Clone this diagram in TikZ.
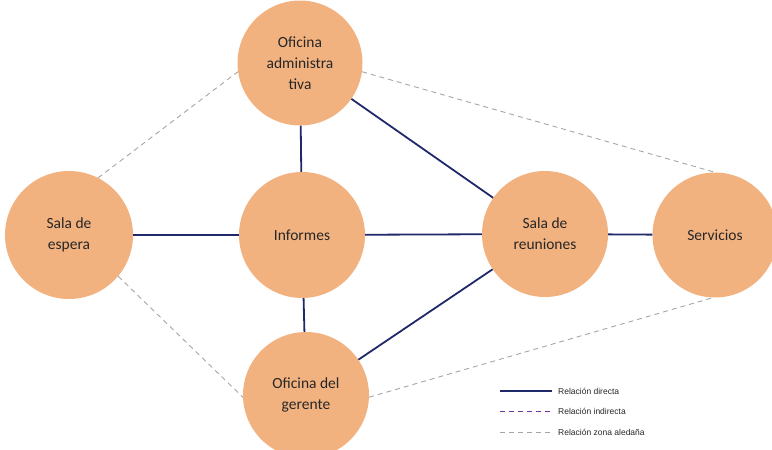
\documentclass[tikz,border=0pt]{standalone}
\usepackage{fontspec}
\setmainfont{Carlito}
\newfontfamily\legendfont{Liberation Sans}
\usepackage{tikz}
\usetikzlibrary{positioning}

\definecolor{zona}{RGB}{242,178,128}
\definecolor{texto}{RGB}{38,38,38}
\definecolor{directa}{RGB}{31,40,105}
\definecolor{indirecta}{RGB}{112,48,160}
\definecolor{aledana}{RGB}{165,165,165}

\tikzset{
    area/.style={circle, fill=zona, minimum size=125pt, inner sep=0pt, align=center, text=texto, font=\fontsize{15.5}{21}\selectfont},
    rdirecta/.style={draw=directa, line width=1.8pt},
    rindirecta/.style={draw=indirecta, line width=0.8pt, dash pattern=on 5pt off 4pt},
    raledana/.style={draw=aledana, line width=0.9pt, dash pattern=on 5pt off 4pt},
    leyenda/.style={font=\legendfont\fontsize{8.5}{10}\selectfont, text=texto, anchor=west, inner sep=0pt}
}

\begin{document}
\begin{tikzpicture}[x=1pt, y=-1pt]
    \useasboundingbox (0,0) rectangle (772,450);

    % Areas
    \node[area] (oa) at (300,63) {Oficina\\administra\\tiva};
    \node[area, minimum size=128pt] (se) at (69,235) {Sala de\\espera};
    \node[area, minimum size=126pt] (inf) at (302,235) {Informes};
    \node[area, minimum size=126pt] (sr) at (545,234) {Sala de\\reuniones};
    \node[area] (sv) at (715,235) {Servicios};
    \node[area, minimum size=126pt] (og) at (306,395) {Oficina del\\gerente};

    % Relacion zona aledana
    \draw[raledana] (se.63) -- (oa.188);
    \draw[raledana] (se.-40) -- (og.182);
    \draw[raledana] (oa.-8) -- (sv.north);
    \draw[raledana] (og.-2) -- (sv.-92);

    % Relacion directa
    \draw[rdirecta] (oa) -- (inf);
    \draw[rdirecta] (oa) -- (sr);
    \draw[rdirecta] (se) -- (inf);
    \draw[rdirecta] (inf) -- (sr);
    \draw[rdirecta] (sr) -- (sv);
    \draw[rdirecta] (inf) -- (og);
    \draw[rdirecta] (og) -- (sr);

    % Leyenda
    \coordinate (d1) at (500,391);
    \coordinate (d2) at (552,391);
    \coordinate (i1) at (500,411);
    \coordinate (i2) at (552,411);
    \coordinate (a1) at (500,432);
    \coordinate (a2) at (552,432);
    \draw[rdirecta] (d1) -- (d2);
    \draw[rindirecta] (i1) -- (i2);
    \draw[raledana] (a1) -- (a2);
    \node[leyenda] (ld) at (558,391) {Relación directa};
    \node[leyenda] (li) at (558,411) {Relación indirecta};
    \node[leyenda] (la) at (558,432) {Relación zona aledaña};
\end{tikzpicture}
\end{document}
